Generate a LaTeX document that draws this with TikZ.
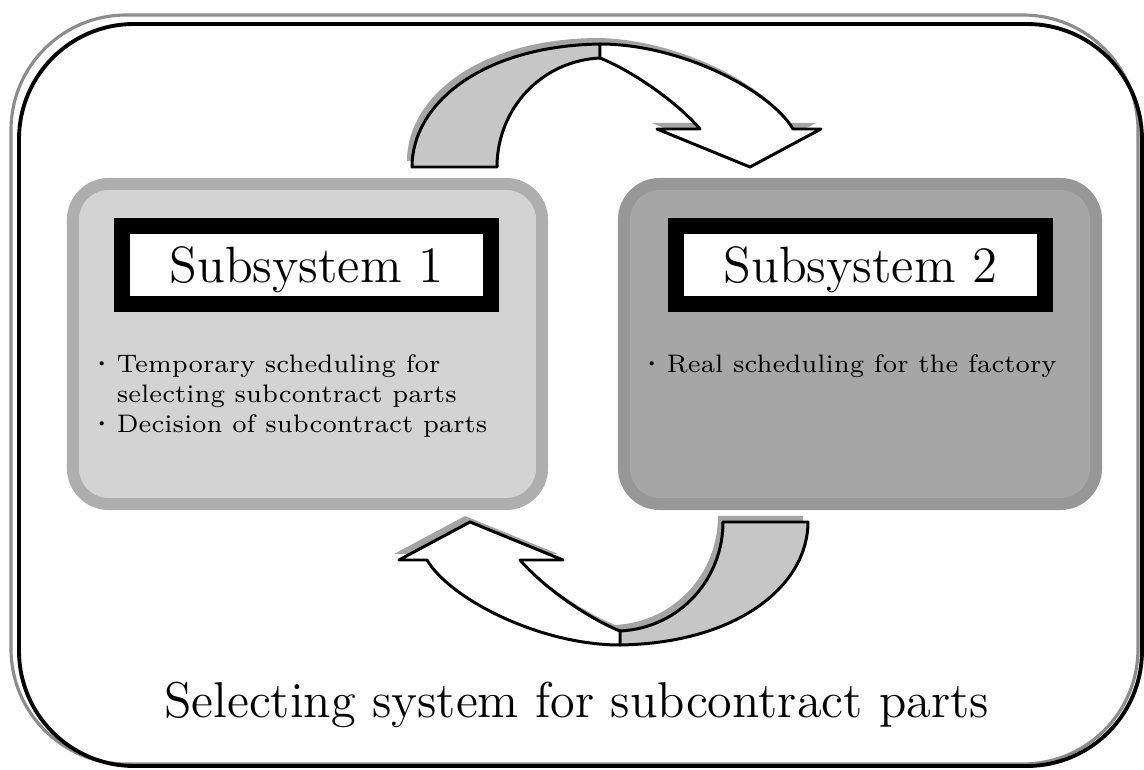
\documentclass[tikz,border=0pt]{standalone}
\usetikzlibrary{positioning}
\definecolor{PaleGrey}{HTML}{D3D3D3}
\definecolor{PaleEdge}{HTML}{AEAEAE}
\definecolor{MidGrey}{HTML}{A6A6A6}
\definecolor{MidEdge}{HTML}{979797}
\definecolor{BandGrey}{HTML}{C6C6C6}
\definecolor{GhostGrey}{HTML}{A4A4A4}
\definecolor{FrameGrey}{HTML}{8C8C8C}

% bullet of the lists
\newcommand{\dotmark}{\makebox[4.9pt][l]{\hspace*{-3pt}\textbf{·}}}
% curved block arrow, pixel coordinates (back part, front part)
\newcommand{\turnarrow}[2]{%
  \path[#1] (412,167) .. controls (412,105) and (480,46) .. (600,44)
    -- (600,58) .. controls (540,61) and (497,110) .. (497,167) -- cycle;
  \path[#2] (600,58) .. controls (630,70) and (675,100) .. (700,129)
    -- (657,129) -- (750,167) -- (821,129) -- (793,129)
    .. controls (770,90) and (680,44) .. (600,44) -- cycle;
}

\begin{document}
\begin{tikzpicture}[
        x=0.01cm, y=-0.01cm,
        panel/.style={rounded corners=0.36cm, line width=3.4pt, minimum height=3.2cm, inner sep=0pt},
        headbox/.style={draw=black, fill=white, line width=4.5pt, minimum width=3.69cm, minimum height=0.78cm, inner sep=0pt, text depth=0pt, font=\fontsize{14.5}{17}\selectfont},
        item/.style={align=left, inner sep=0pt, font=\fontsize{7.2}{8.6}\selectfont},
        backpart/.style={draw=black, fill=BandGrey, line width=0.85pt, line join=round},
        frontpart/.style={draw=black, fill=white, line width=0.85pt, line join=round},
        ghost/.style={fill=GhostGrey},
        frameline/.style={draw=black, line width=1.1pt, rounded corners=1.15cm},
        frameghost/.style={draw=FrameGrey, line width=0.9pt, rounded corners=1.15cm}
    ]
    \useasboundingbox (0,0) rectangle (1144,770);

    % outer frame
    \path[frameghost] (11,15) rectangle (1138,764);
    \path[frameline] (19,24) rectangle (1142,766);

    % subsystems
    \node[panel, draw=PaleEdge, fill=PaleGrey, minimum width=4.69cm] (sub1) at (307.5,344) {};
    \node[panel, draw=MidEdge, fill=MidGrey, minimum width=4.72cm] (sub2) at (860,344) {};

    \node[headbox] (head1) at (306.5,265) {Subsystem 1};
    \node[headbox] (head2) at (860.5,265) {Subsystem 2};

    \node[item, below right=0.42cm and -0.15cm of head1.south west] (list1)
        {\dotmark Temporary scheduling for\\\hspace*{4.9pt}selecting subcontract parts\\\dotmark Decision of subcontract parts};
    \node[item, below right=0.42cm and -0.19cm of head2.south west] (list2)
        {\dotmark Real scheduling for the factory};

    % arrows between the subsystems
    \begin{scope}[shift={(-5,-6)}]
        \turnarrow{ghost}{ghost}
    \end{scope}
    \turnarrow{backpart}{frontpart}
    \begin{scope}[shift={(-5,-6)}, rotate around={180:(610,344.5)}]
        \turnarrow{ghost}{ghost}
    \end{scope}
    \begin{scope}[rotate around={180:(610,344.5)}]
        \turnarrow{backpart}{frontpart}
    \end{scope}

    \node[anchor=base, font=\fontsize{14.3}{17}\selectfont] (caption) at (576.5,718) {Selecting system for subcontract parts};
\end{tikzpicture}
\end{document}
